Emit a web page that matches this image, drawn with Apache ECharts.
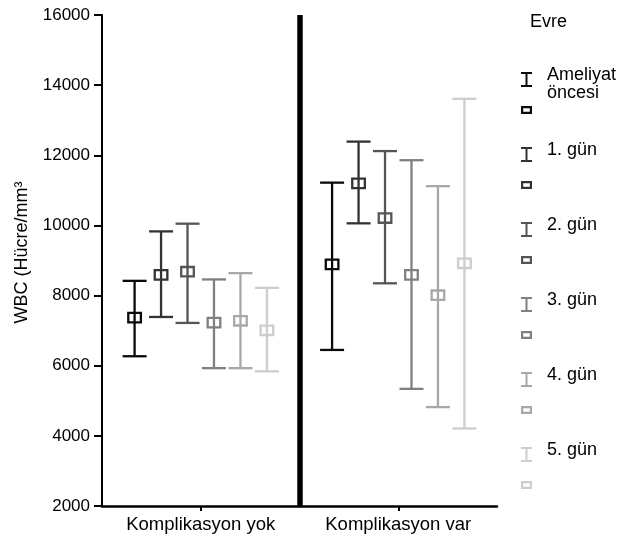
<!DOCTYPE html>
<html>
<head>
<meta charset="utf-8">
<script src="https://cdn.jsdelivr.net/npm/echarts@6/dist/echarts.min.js"></script>
<style>
html,body{margin:0;padding:0;background:#fff;}
#chart{width:635px;height:538px;}
</style>
</head>
<body>
<div id="chart"></div>
<script>
// ---- data ----
const categories = ['Komplikasyon yok', 'Komplikasyon var'];
const stages = ['Ameliyat\nöncesi', '1. gün', '2. gün', '3. gün', '4. gün', '5. gün'];
// per stage: [Komplikasyon yok, Komplikasyon var]
const meanValues = [
  [7370, 8890],
  [8590, 11200],
  [8680, 10210],
  [7230, 8590],
  [7280, 8010],
  [7010, 8920]
];
const lowValues = [
  [6270, 6450],
  [7390, 10060],
  [7220, 8350],
  [5930, 5340],
  [5930, 4820],
  [5840, 4210]
];
const highValues = [
  [8420, 11220],
  [9830, 12390],
  [10050, 12120],
  [8460, 11860],
  [8640, 11120],
  [8220, 13610]
];
const yTicks = { min: 2000, max: 16000, interval: 2000 };

// ---- styling ----
const colors = ['#0a0a0a', '#333333', '#555555', '#808080', '#a8a8a8', '#cdcdcd'];
const FONT = 'Helvetica, Arial, "Liberation Sans", sans-serif';
const legendIcon = 'path://M0 0H11V2H6.5V13H11V15H0V13H4.5V2H0Z M0 34H11V42H0Z M2.2 36.2V39.8H8.8V36.2Z';

const chart = echarts.init(document.getElementById('chart'), null, { renderer: 'canvas' });

function makeSeries(i) {
  const data = categories.map((c, k) => [k, lowValues[i][k], meanValues[i][k], highValues[i][k]]);
  return {
    type: 'custom',
    name: stages[i],
    itemStyle: { color: colors[i] },
    data: data,
    encode: { x: 0, y: [1, 2, 3] },
    z: 3,
    renderItem: function (params, api) {
      const k = api.value(0);
      const band = api.size([1, 0])[0];
      const off = (i - 2.5) * band * 0.134;
      const pLow = api.coord([k, api.value(1)]);
      const pMean = api.coord([k, api.value(2)]);
      const pHigh = api.coord([k, api.value(3)]);
      const x = pMean[0] + off;
      const capHalf = 12;
      const style = { stroke: colors[i], lineWidth: 2.3, fill: null };
      return {
        type: 'group',
        children: [
          { type: 'line', shape: { x1: x, y1: pHigh[1], x2: x, y2: pLow[1] }, style: style },
          { type: 'line', shape: { x1: x - capHalf, y1: pHigh[1], x2: x + capHalf, y2: pHigh[1] }, style: style },
          { type: 'line', shape: { x1: x - capHalf, y1: pLow[1], x2: x + capHalf, y2: pLow[1] }, style: style },
          { type: 'rect', shape: { x: x - 6.3, y: pMean[1] - 4.7, width: 12.6, height: 9.4 }, style: { stroke: colors[i], lineWidth: 2.3, fill: 'none' } }
        ]
      };
    }
  };
}

const option = {
  backgroundColor: '#ffffff',
  animation: false,
  textStyle: { fontFamily: FONT, color: '#000' },
  title: {
    text: 'Evre',
    left: 530,
    top: 13,
    padding: 0,
    textStyle: { fontFamily: FONT, fontSize: 18, fontWeight: 'normal', color: '#000' }
  },
  legend: {
    orient: 'vertical',
    left: 521,
    top: 66,
    padding: 0,
    itemWidth: 11,
    itemHeight: 42,
    itemGap: 21,
    selectedMode: false,
    icon: legendIcon,
    data: stages,
    formatter: function (name) {
      return name.indexOf('\n') >= 0 ? name + '\n ' : name + '\n \n ';
    },
    textStyle: { fontFamily: FONT, fontSize: 18, color: '#000', lineHeight: 18, padding: [0, 0, 0, 10] }
  },
  grid: { left: 102, right: 138, top: 15, bottom: 32, containLabel: false },
  xAxis: {
    type: 'category',
    data: categories,
    axisLine: { show: true, lineStyle: { color: '#000', width: 2.5 } },
    axisTick: { show: true, alignWithLabel: true, length: 5, lineStyle: { color: '#000', width: 2 } },
    axisLabel: { fontFamily: FONT, fontSize: 18.5, color: '#000', margin: 9 },
    splitLine: { show: true, interval: 0, lineStyle: { color: ['rgba(0,0,0,0)', '#000000'], width: 5.5 } }
  },
  yAxis: {
    type: 'value',
    min: yTicks.min,
    max: yTicks.max,
    interval: yTicks.interval,
    name: 'WBC (Hücre/mm³',
    nameLocation: 'middle',
    nameGap: 71,
    nameTextStyle: { fontFamily: FONT, fontSize: 18, color: '#000', padding: [0, 0, 0, 16] },
    axisLine: { show: true, lineStyle: { color: '#000', width: 2 } },
    axisTick: { show: true, length: 8, lineStyle: { color: '#000', width: 2 } },
    axisLabel: { fontFamily: FONT, fontSize: 17, color: '#000', margin: 12, formatter: function (v) { return String(v); } },
    splitLine: { show: false }
  },
  series: stages.map((s, i) => makeSeries(i))
};
chart.setOption(option);
</script>
</body>
</html>
